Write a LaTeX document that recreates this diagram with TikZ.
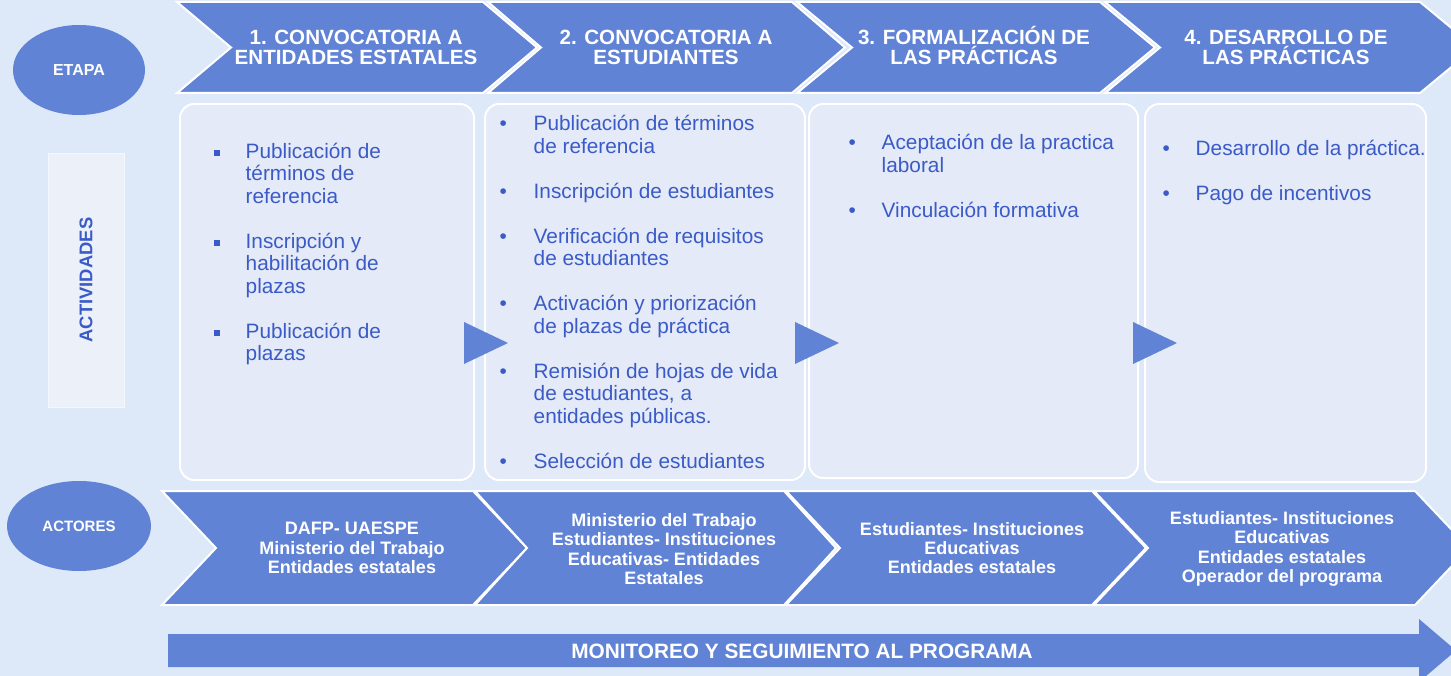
\documentclass[tikz,border=0pt]{standalone}
\usepackage{fontspec}
\setmainfont{Liberation Sans}
\usepackage{tikz}
\usetikzlibrary{shapes.geometric, positioning}
\definecolor{fondoazul}{HTML}{DDE8F8}
\definecolor{chevazul}{HTML}{6183D5}
\definecolor{cajaazul}{HTML}{E4EAF7}
\definecolor{textoazul}{HTML}{3A5BC7}
\newcommand{\actsq}{\rule[2.5pt]{6pt}{6pt}}
\newcommand{\actdot}{\textbullet}

\begin{document}
\begin{tikzpicture}[
    x=1pt, y=-1pt,
    chevron/.style={fill=chevazul, draw=white, line width=2pt, line join=miter},
    etapatxt/.style={text=white, align=center, font=\bfseries\fontsize{20.6}{20}\selectfont, inner sep=0pt, text height=34pt, text depth=0pt},
    monitxt/.style={text=white, font=\bfseries\fontsize{20.8}{20}\selectfont, inner sep=0pt},
    actortxt/.style={text=white, align=center, font=\bfseries\fontsize{18}{19.3}\selectfont, inner sep=0pt},
    actbox/.style={draw=white, line width=2pt, fill=cajaazul, rounded corners=14pt},
    acttxt/.style={text=textoazul, anchor=base west, inner sep=0pt, font=\fontsize{20.8}{22.5}\selectfont},
    elipse/.style={ellipse, fill=chevazul, text=white, inner sep=0pt}
]
\useasboundingbox (0,0) rectangle (1451,676);
\fill[fondoazul] (0,0) rectangle (1451,676);
\clip (0,0) rectangle (1451,676);

\node[elipse, minimum width=132pt, minimum height=90pt, font=\bfseries\fontsize{16}{16}\selectfont] (etapa) at (79,70) {ETAPA};
\node[elipse, minimum width=144pt, minimum height=90pt, font=\bfseries\fontsize{15}{15}\selectfont] (actores) at (79,526) {ACTORES};
\node[draw=white!60!cajaazul, fill=white!30!cajaazul, minimum width=76pt, minimum height=254pt, text=textoazul, font=\bfseries\fontsize{18.4}{18.4}\selectfont] (actividades) at (86,280) {\rotatebox{90}{ACTIVIDADES}};

\foreach \l/\r/\t in {177/483/537, 488/792/845, 797/1100/1155, 1105/1420/1475}
  \draw[chevron] (\l,2) -- (\r,2) -- (\t,47.5) -- (\r,93) -- (\l,93) -- ({\l+\t-\r},47.5) -- cycle;

\node[etapatxt] (etapa1) at (356,47.5) {1. CONVOCATORIA A\\ENTIDADES ESTATALES};
\node[etapatxt] (etapa2) at (666,47.5) {2. CONVOCATORIA A\\ESTUDIANTES};
\node[etapatxt] (etapa3) at (974,47.5) {3. FORMALIZACIÓN DE\\LAS PRÁCTICAS};
\node[etapatxt] (etapa4) at (1286,47.5) {4. DESARROLLO DE\\LAS PRÁCTICAS};

\node[actbox, minimum width=294pt, minimum height=376pt] (caja1) at (327,292) {};
\node[actbox, minimum width=320pt, minimum height=376pt] (caja2) at (645,292) {};
\node[actbox, minimum width=329pt, minimum height=374pt] (caja3) at (973.5,291) {};
\node[actbox, minimum width=281pt, minimum height=378pt] (caja4) at (1285.5,293) {};

\foreach \x in {464, 795, 1133}
  \fill[chevazul] (\x,322) -- (\x+44,343) -- (\x,364) -- cycle;

\node[acttxt] (lista1) at (214,158.5) {\begin{tabular}[t]{@{}p{31.5pt}@{}l@{}}
\actsq & Publicación de\\
 & términos de\\
 & referencia\\
 & \\
\actsq & Inscripción y\\
 & habilitación de\\
 & plazas\\
 & \\
\actsq & Publicación de\\
 & plazas
\end{tabular}};
\node[acttxt] (lista2) at (499.5,131) {\begin{tabular}[t]{@{}p{34pt}@{}l@{}}
\actdot & Publicación de términos\\
 & de referencia\\
 & \\
\actdot & Inscripción de estudiantes\\
 & \\
\actdot & Verificación de requisitos\\
 & de estudiantes\\
 & \\
\actdot & Activación y priorización\\
 & de plazas de práctica\\
 & \\
\actdot & Remisión de hojas de vida\\
 & de estudiantes, a\\
 & entidades públicas.\\
 & \\
\actdot & Selección de estudiantes
\end{tabular}};
\node[acttxt] (lista3) at (848.5,150) {\begin{tabular}[t]{@{}p{33pt}@{}l@{}}
\actdot & Aceptación de la practica\\
 & laboral\\
 & \\
\actdot & Vinculación formativa
\end{tabular}};
\node[acttxt] (lista4) at (1162.5,156) {\begin{tabular}[t]{@{}p{33pt}@{}l@{}}
\actdot & Desarrollo de la práctica.\\
 & \\
\actdot & Pago de incentivos
\end{tabular}};

\foreach \l/\r/\t in {162/473/527, 475/784/836, 786/1092/1146, 1094/1415/1469}
  \draw[chevron] (\l,491) -- (\r,491) -- (\t,548) -- (\r,605) -- (\l,605) -- ({\l+\t-\r},548) -- cycle;

\node[actortxt] (actor1) at (352,548) {DAFP- UAESPE\\Ministerio del Trabajo\\Entidades estatales};
\node[actortxt] (actor2) at (664,549) {Ministerio del Trabajo\\Estudiantes- Instituciones\\Educativas- Entidades\\Estatales};
\node[actortxt] (actor3) at (972,548) {Estudiantes- Instituciones\\Educativas\\Entidades estatales};
\node[actortxt] (actor4) at (1282,549) {Estudiantes- Instituciones\\Educativas\\Entidades estatales\\Operador del programa};

\fill[chevazul] (168,634) -- (1419,634) -- (1419,619) -- (1456,650.5) -- (1419,682) -- (1419,667) -- (168,667) -- cycle;
\node[monitxt] (monitoreo) at (802,651) {MONITOREO Y SEGUIMIENTO AL PROGRAMA};
\end{tikzpicture}
\end{document}
